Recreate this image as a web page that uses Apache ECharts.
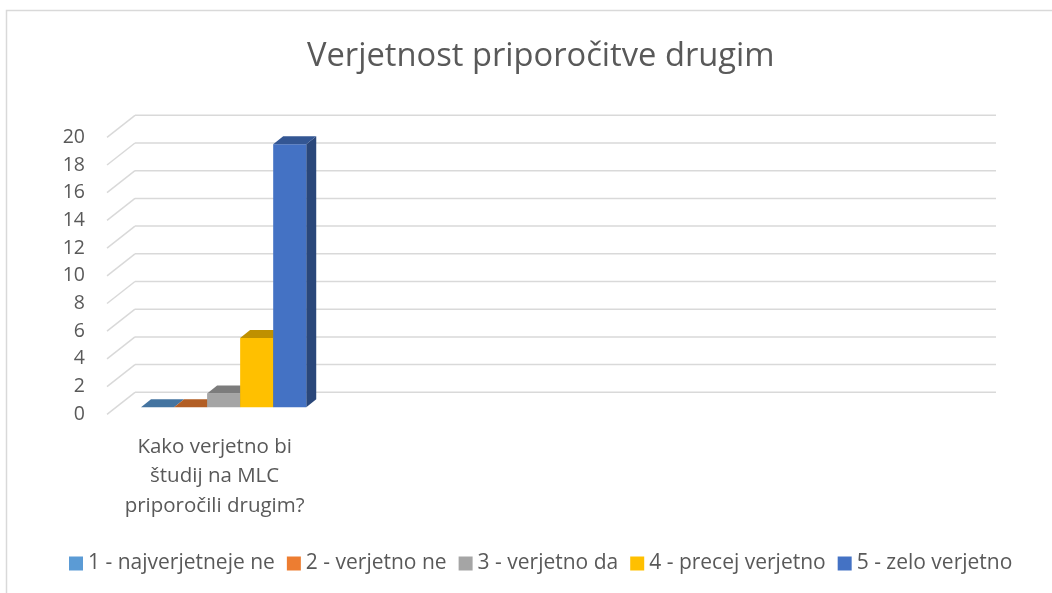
<!DOCTYPE html>
<html><head><meta charset="utf-8">
<script src="https://cdn.jsdelivr.net/npm/echarts@6/dist/echarts.min.js"></script>
<style>html,body{margin:0;padding:0;background:#fff}#c{width:1052px;height:593px}</style>
</head><body><div id="c"></div>
<script>
const categories = ['Kako verjetno bi\nštudij na MLC\npriporočili drugim?', '', '', ''];
const seriesNames = ['1 - najverjetneje ne', '2 - verjetno ne', '3 - verjetno da', '4 - precej verjetno', '5 - zelo verjetno'];
const seriesValues = [0, 0, 1, 5, 19];
const seriesColors = ['#5B9BD5', '#ED7D31', '#A5A5A5', '#FFC000', '#4472C4'];
const yTicks = [0, 2, 4, 6, 8, 10, 12, 14, 16, 18, 20];

const FONT = 'Open Sans';
const TXT = '#595959';
const DEPTH_X = 28, DEPTH_Y = -22;      // floor depth offset (front -> back wall)
const BAR_DX = 9, BAR_DY = -7;          // bar placement inside depth
const BAR_DEPTH_X = 10, BAR_DEPTH_Y = -8;
const BAR_FRAC = 0.1535;

function shade(hex, f) {
  const n = parseInt(hex.slice(1), 16);
  const r = Math.round(((n >> 16) & 255) * f), g = Math.round(((n >> 8) & 255) * f), b = Math.round((n & 255) * f);
  return 'rgb(' + r + ',' + g + ',' + b + ')';
}

const gridSeries = {
  type: 'custom', silent: true, z: 1,
  data: yTicks.map(v => [0, v]),
  renderItem: function (params, api) {
    const cs = params.coordSys;
    const y = api.coord([0, api.value(1)])[1];
    const x0 = cs.x;
    const style = { stroke: '#d9d9d9', lineWidth: 1.5 };
    return { type: 'group', children: [
      { type: 'line', shape: { x1: x0, y1: y, x2: x0 + DEPTH_X, y2: y + DEPTH_Y }, style: style },
      { type: 'line', shape: { x1: x0 + DEPTH_X, y1: y + DEPTH_Y, x2: x0 + cs.width + DEPTH_X, y2: y + DEPTH_Y }, style: style }
    ]};
  }
};

const barSeries = seriesNames.map((name, i) => ({
  type: 'custom', name: name, z: 2 + i,
  itemStyle: { color: seriesColors[i] },
  data: [[0, seriesValues[i]]],
  renderItem: function (params, api) {
    const c0 = api.coord([api.value(0), 0]);
    const c1 = api.coord([api.value(0), api.value(1)]);
    const catW = api.size([1, 0])[0];
    const bw = catW * BAR_FRAC;
    const x = c0[0] - bw * seriesNames.length / 2 + i * bw + BAR_DX;
    const yb = c0[1] + BAR_DY, yt = c1[1] + BAR_DY;
    const col = seriesColors[i];
    return { type: 'group', children: [
      { type: 'polygon', shape: { points: [[x + bw, yt], [x + bw, yb], [x + bw + BAR_DEPTH_X, yb + BAR_DEPTH_Y], [x + bw + BAR_DEPTH_X, yt + BAR_DEPTH_Y]] }, style: { fill: shade(col, 0.62) } },
      { type: 'rect', shape: { x: x, y: yt, width: bw, height: yb - yt }, style: { fill: col } },
      { type: 'polygon', shape: { points: [[x, yt], [x + bw, yt], [x + bw + BAR_DEPTH_X, yt + BAR_DEPTH_Y], [x + BAR_DEPTH_X, yt + BAR_DEPTH_Y]] }, style: { fill: shade(col, 0.75) } }
    ]};
  }
}));

const chart = echarts.init(document.getElementById('c'));
chart.setOption({
  animation: false,
  backgroundColor: '#fff',
  graphic: [{ type: 'rect', shape: { x: 6.5, y: 10.5, width: 1200, height: 800 }, style: { fill: 'none', stroke: '#d9d9d9', lineWidth: 1.5 }, z: -1 }],
  title: { text: 'Verjetnost priporočitve drugim', left: 302, top: 35,
    textStyle: { fontFamily: FONT, fontSize: 32.7, fontWeight: 'normal', color: TXT } },
  legend: { data: seriesNames, top: 548, left: 64, icon: 'rect', itemWidth: 14, itemHeight: 14, itemGap: 12,
    textStyle: { fontFamily: FONT, fontSize: 21, color: TXT, padding: [0, 0, 0, 0] } },
  grid: { left: 107, top: 137.3, width: 861, height: 277 },
  xAxis: { type: 'category', data: categories,
    axisLine: { show: false }, axisTick: { show: false },
    axisLabel: { interval: 0, margin: 18, fontFamily: FONT, fontSize: 20.5, lineHeight: 29.5, color: TXT } },
  yAxis: { type: 'value', min: 0, max: 20, interval: 2,
    axisLine: { show: false }, axisTick: { show: false }, splitLine: { show: false },
    axisLabel: { margin: 22, fontFamily: FONT, fontSize: 19.5, color: TXT } },
  series: [gridSeries].concat(barSeries)
});
</script></body></html>
